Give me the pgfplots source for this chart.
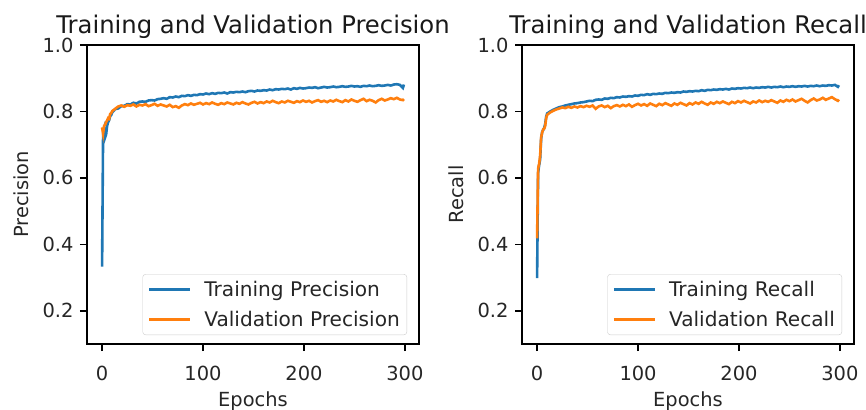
\documentclass[border=0pt]{standalone}
\usepackage{pgfplots}
\pgfplotsset{compat=1.18}
\usepackage{pgfplotstable}
\usepackage{fontspec}
\setmainfont{DejaVu Sans}
\definecolor{tabblue}{HTML}{1F77B4}
\definecolor{taborange}{HTML}{FF7F0E}

\pgfplotstableread{
ep tp vp
0 0.333 0.752
1 0.735 0.733
2 0.748 0.757
3 0.722 0.760
4 0.731 0.768
5 0.757 0.773
6 0.768 0.780
7 0.774 0.778
8 0.786 0.792
9 0.789 0.795
10 0.797 0.801
13 0.807 0.808
16 0.809 0.815
19 0.816 0.818
22 0.817 0.814
25 0.822 0.819
28 0.821 0.817
31 0.826 0.821
34 0.824 0.815
37 0.829 0.820
40 0.830 0.818
43 0.829 0.822
46 0.833 0.816
49 0.834 0.819
52 0.833 0.823
55 0.837 0.817
58 0.838 0.821
61 0.840 0.818
64 0.838 0.815
67 0.843 0.820
70 0.842 0.813
73 0.845 0.816
76 0.843 0.811
79 0.847 0.818
82 0.846 0.822
85 0.849 0.819
88 0.847 0.824
91 0.850 0.820
94 0.849 0.823
97 0.852 0.826
100 0.851 0.821
103 0.854 0.825
106 0.852 0.822
109 0.855 0.827
112 0.853 0.823
115 0.856 0.820
118 0.855 0.825
121 0.857 0.822
124 0.854 0.827
127 0.858 0.824
130 0.857 0.821
133 0.859 0.826
136 0.858 0.823
139 0.860 0.828
142 0.858 0.824
145 0.861 0.821
148 0.862 0.826
151 0.860 0.829
154 0.863 0.824
157 0.862 0.828
160 0.864 0.825
163 0.863 0.830
166 0.866 0.827
169 0.864 0.832
172 0.867 0.828
175 0.866 0.825
178 0.868 0.830
181 0.867 0.827
184 0.869 0.832
187 0.866 0.829
190 0.870 0.826
193 0.868 0.831
196 0.871 0.828
199 0.869 0.833
202 0.870 0.829
205 0.872 0.832
208 0.871 0.827
211 0.873 0.831
214 0.870 0.834
217 0.872 0.829
220 0.874 0.832
223 0.872 0.828
226 0.873 0.833
229 0.875 0.830
232 0.873 0.835
235 0.874 0.831
238 0.876 0.828
241 0.874 0.834
244 0.875 0.830
247 0.877 0.836
250 0.875 0.832
253 0.876 0.829
256 0.874 0.834
259 0.877 0.838
262 0.876 0.831
265 0.878 0.835
268 0.876 0.832
271 0.877 0.827
274 0.879 0.834
277 0.877 0.838
280 0.878 0.833
283 0.880 0.836
286 0.878 0.840
289 0.881 0.837
292 0.882 0.841
295 0.880 0.836
298 0.871 0.834
299 0.881 0.837
}\prectable

\pgfplotstableread{
ep tr vr
0 0.298 0.418
1 0.615 0.628
2 0.638 0.642
3 0.655 0.666
4 0.718 0.722
5 0.738 0.736
6 0.744 0.746
7 0.750 0.748
8 0.762 0.756
9 0.784 0.780
10 0.794 0.790
13 0.800 0.797
16 0.805 0.802
19 0.809 0.806
22 0.813 0.809
25 0.815 0.812
28 0.818 0.810
31 0.820 0.814
34 0.822 0.811
37 0.824 0.815
40 0.825 0.812
43 0.827 0.816
46 0.828 0.813
49 0.830 0.817
52 0.832 0.814
55 0.831 0.818
58 0.835 0.808
61 0.836 0.815
64 0.835 0.818
67 0.839 0.813
70 0.838 0.817
73 0.841 0.810
76 0.840 0.816
79 0.843 0.819
82 0.842 0.815
85 0.845 0.820
88 0.844 0.816
91 0.846 0.821
94 0.845 0.814
97 0.848 0.819
100 0.847 0.823
103 0.850 0.818
106 0.849 0.822
109 0.852 0.817
112 0.850 0.824
115 0.853 0.820
118 0.852 0.816
121 0.854 0.823
124 0.853 0.819
127 0.856 0.825
130 0.855 0.821
133 0.857 0.817
136 0.856 0.824
139 0.858 0.820
142 0.857 0.826
145 0.860 0.822
148 0.859 0.818
151 0.861 0.825
154 0.860 0.821
157 0.862 0.827
160 0.861 0.823
163 0.864 0.829
166 0.862 0.824
169 0.865 0.820
172 0.864 0.827
175 0.866 0.823
178 0.865 0.829
181 0.867 0.825
184 0.866 0.830
187 0.868 0.826
190 0.866 0.822
193 0.869 0.829
196 0.868 0.825
199 0.870 0.831
202 0.869 0.827
205 0.871 0.832
208 0.870 0.828
211 0.872 0.824
214 0.870 0.830
217 0.872 0.827
220 0.871 0.833
223 0.873 0.828
226 0.872 0.832
229 0.874 0.829
232 0.872 0.834
235 0.874 0.830
238 0.873 0.826
241 0.875 0.833
244 0.873 0.829
247 0.875 0.835
250 0.874 0.831
253 0.876 0.836
256 0.874 0.830
259 0.876 0.834
262 0.875 0.838
265 0.877 0.832
268 0.875 0.827
271 0.877 0.834
274 0.876 0.839
277 0.878 0.833
280 0.876 0.836
283 0.878 0.841
286 0.877 0.835
289 0.879 0.839
292 0.878 0.843
295 0.880 0.837
298 0.874 0.832
299 0.879 0.836
}\rectable

\pgfplotsset{
  mystyle/.style={
    scale only axis,
    width=332bp, height=299bp,
    anchor=south west,
    xmin=-14.95, xmax=313.95,
    ymin=0.1, ymax=1.0,
    xtick={0,100,200,300},
    ytick={0.2,0.4,0.6,0.8,1.0},
    tick align=outside,
    tick pos=left,
    major tick length=7bp,
    every tick/.style={black, line width=1.5bp},
    axis line style={line width=1.5bp},
    /pgf/number format/assume math mode=true,
    yticklabel style={/pgf/number format/fixed, /pgf/number format/fixed zerofill, /pgf/number format/precision=1, xshift=-3bp},
    xticklabel style={yshift=-12bp},
    tick label style={font=\fontsize{19.5}{21}\selectfont, text=black!85},
    label style={font=\fontsize{19.5}{21}\selectfont, text=black!85},
    xlabel style={yshift=-4bp},
    ylabel style={yshift=7bp},
    title style={font=\fontsize{24.4}{27}\selectfont, text=black!90, yshift=-3bp},
    xlabel={Epochs},
    legend cell align=left,
    legend style={
      at={(axis description cs:0.964,0.03)}, anchor=south east,
      draw=black!20, rounded corners=3bp,
      fill=white, fill opacity=0.8, text opacity=1,
      font=\fontsize{20.2}{22}\selectfont, text=black!85,
      inner xsep=5bp, inner ysep=5bp,
      row sep=9bp,
    },
  },
  myline/.style={line width=2.6bp,
    legend image code/.code={\draw[line width=2.6bp, ##1] (0bp,0bp) -- (41bp,0bp);}},
}

\begin{document}
\begin{tikzpicture}
\useasboundingbox (0,0) rectangle (866bp,410bp);
\begin{axis}[mystyle, at={(87bp,66bp)},
  title={Training and Validation Precision}, ylabel={Precision}]
\addplot[myline, tabblue] table[x=ep, y=tp] {\prectable};
\addlegendentry{\hspace{11bp}Training Precision}
\addplot[myline, taborange] table[x=ep, y=vp] {\prectable};
\addlegendentry{\hspace{11bp}Validation Precision}
\end{axis}
\begin{axis}[mystyle, at={(522bp,66bp)},
  title={Training and Validation Recall}, ylabel={Recall}]
\addplot[myline, tabblue] table[x=ep, y=tr] {\rectable};
\addlegendentry{\hspace{11bp}Training Recall}
\addplot[myline, taborange] table[x=ep, y=vr] {\rectable};
\addlegendentry{\hspace{11bp}Validation Recall}
\end{axis}
\end{tikzpicture}
\end{document}
